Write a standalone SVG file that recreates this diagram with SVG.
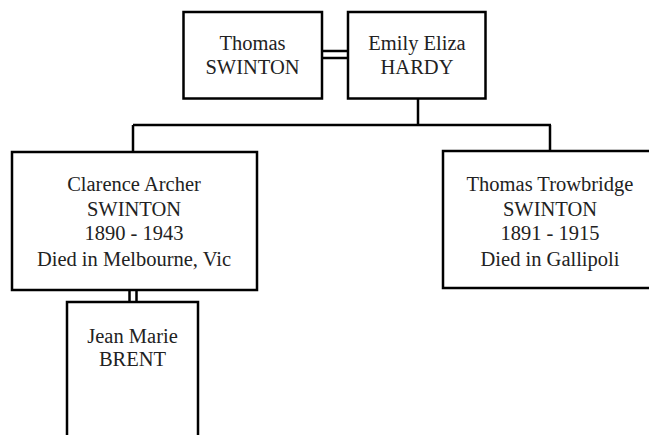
<svg xmlns="http://www.w3.org/2000/svg" width="649" height="435" viewBox="0 0 649 435">
<style>
.box{fill:#fff;stroke:#000;stroke-width:2.5}
.ln{fill:none;stroke:#000;stroke-width:2.5}
.t{font-family:'Liberation Serif','Times New Roman',serif;font-size:20.5px;fill:#222;text-anchor:middle}
</style>
<rect width="649" height="435" fill="#fff"/>
<g id="connectors">
<line class="ln" x1="322" y1="51" x2="348" y2="51"/>
<line class="ln" x1="322" y1="58" x2="348" y2="58"/>
<line class="ln" x1="418" y1="98" x2="418" y2="125"/>
<line class="ln" x1="133" y1="125" x2="551" y2="125"/>
<line class="ln" x1="133" y1="125" x2="133" y2="152"/>
<line class="ln" x1="550" y1="125" x2="550" y2="151"/>
<line class="ln" x1="129.5" y1="290" x2="129.5" y2="302"/>
<line class="ln" x1="136.5" y1="290" x2="136.5" y2="302"/>
</g>
<g id="thomas">
<rect class="box" x="183.5" y="12" width="138.5" height="86.5"/>
<text class="t" x="252.5" y="50">Thomas</text>
<text class="t" x="252.5" y="74">SWINTON</text>
</g>
<g id="emily">
<rect class="box" x="348" y="12" width="137.5" height="86.5"/>
<text class="t" x="417" y="50">Emily Eliza</text>
<text class="t" x="417" y="74">HARDY</text>
</g>
<g id="clarence">
<rect class="box" x="12" y="152" width="245" height="138"/>
<text class="t" x="134" y="191">Clarence Archer</text>
<text class="t" x="134" y="215.5">SWINTON</text>
<text class="t" x="134" y="240">1890 - 1943</text>
<text class="t" x="134" y="265.5">Died in Melbourne, Vic</text>
</g>
<g id="trowbridge">
<rect class="box" x="443" y="151" width="214" height="137"/>
<text class="t" x="550" y="191">Thomas Trowbridge</text>
<text class="t" x="550" y="215.5">SWINTON</text>
<text class="t" x="550" y="240">1891 - 1915</text>
<text class="t" x="550" y="265.5">Died in Gallipoli</text>
</g>
<g id="jean">
<rect class="box" x="67" y="302" width="131" height="150"/>
<text class="t" x="132.5" y="343">Jean Marie</text>
<text class="t" x="132.5" y="366">BRENT</text>
</g>
</svg>
